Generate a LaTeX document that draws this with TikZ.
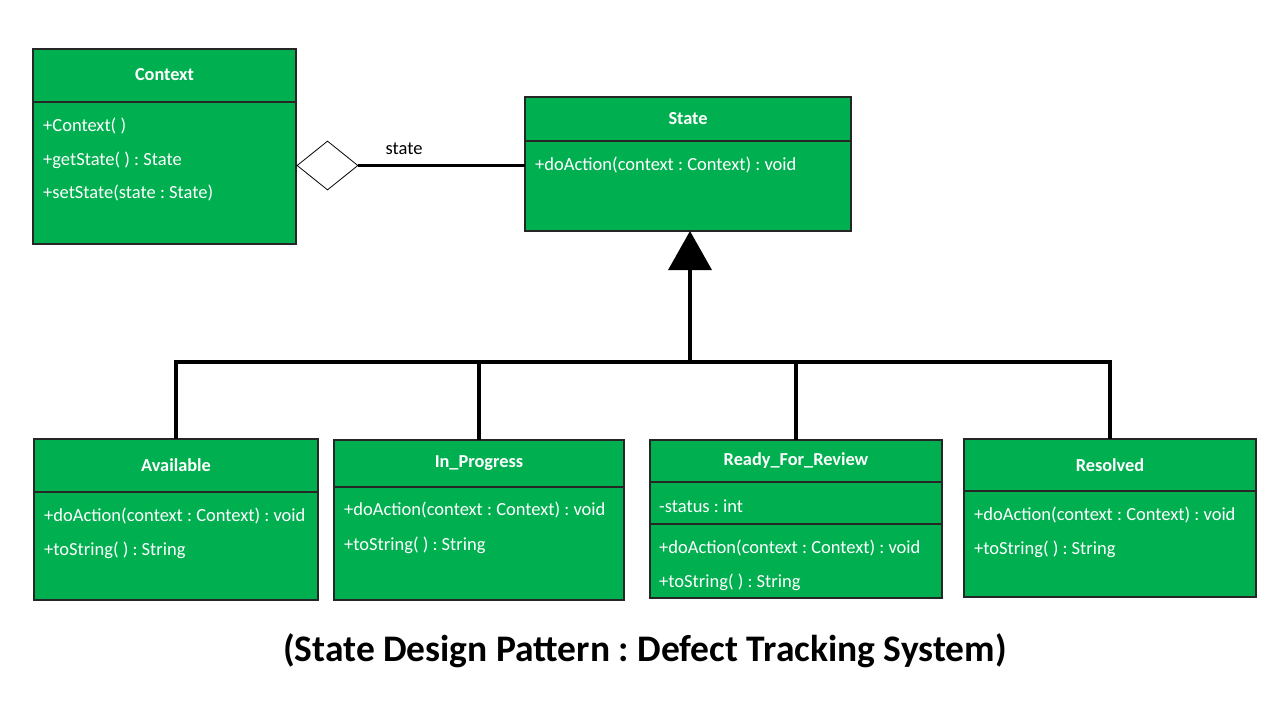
\documentclass[tikz,border=0pt]{standalone}
\usepackage{fontspec}
\setmainfont{Carlito}
\usetikzlibrary{arrows.meta,shapes.geometric}
\definecolor{umlgreen}{RGB}{0,176,80}
\begin{document}
\frenchspacing
\begin{tikzpicture}[x=1pt,y=-1pt,
  cls/.style={draw=black!85,fill=umlgreen,line width=1.3pt,anchor=north west,inner sep=0pt,outer sep=0pt},
  divl/.style={draw=black!85,line width=1.3pt},
  ttl/.style={text=white,font=\fontsize{18.3}{22}\selectfont\bfseries,inner sep=0pt},
  mem/.style={text=white,font=\fontsize{18.5}{22}\selectfont,anchor=west,inner sep=0pt},
  link/.style={line width=3.5pt,black}]
\useasboundingbox (0,0) rectangle (1280,720);

% Context
\node[cls,minimum width=263pt,minimum height=195pt] (ctx) at (33,49) {};
\draw[divl] (33,102) -- (296,102);
\node[ttl] (ctxT) at (164.5,75) {Context};
\node[mem] (ctx1) at (43,126) {+Context( )};
\node[mem] (ctx2) at (43,160) {+getState( ) : State};
\node[mem] (ctx3) at (43,193) {+setState(state : State)};

% State
\node[cls,minimum width=326pt,minimum height=134pt] (st) at (525,97) {};
\draw[divl] (525,141) -- (851,141);
\node[ttl] (stT) at (688,119) {State};
\node[mem] (st1) at (535,165) {+doAction(context : Context) : void};

% Available
\node[cls,minimum width=284pt,minimum height=161pt] (av) at (34,439) {};
\draw[divl] (34,492) -- (318,492);
\node[ttl] (avT) at (176,465) {Available};
\node[mem] (av1) at (44,516) {+doAction(context : Context) : void};
\node[mem] (av2) at (44,550) {+toString( ) : String};

% In_Progress
\node[cls,minimum width=290pt,minimum height=160pt] (ip) at (334,440) {};
\draw[divl] (334,487) -- (624,487);
\node[ttl] (ipT) at (479,463) {In\_Progress};
\node[mem] (ip1) at (344,510) {+doAction(context : Context) : void};
\node[mem] (ip2) at (344,545) {+toString( ) : String};

% Ready_For_Review
\node[cls,minimum width=292pt,minimum height=158pt] (rfr) at (650,440) {};
\draw[divl] (650,482) -- (942,482);
\draw[divl] (650,524) -- (942,524);
\node[ttl] (rfrT) at (796,461) {Ready\_For\_Review};
\node[mem] (rfr0) at (659,506) {-status : int};
\node[mem] (rfr1) at (659,548) {+doAction(context : Context) : void};
\node[mem] (rfr2) at (659,582) {+toString( ) : String};

% Resolved
\node[cls,minimum width=292pt,minimum height=158pt] (res) at (964,439) {};
\draw[divl] (964,491) -- (1256,491);
\node[ttl] (resT) at (1110,465) {Resolved};
\node[mem] (res1) at (974,515) {+doAction(context : Context) : void};
\node[mem] (res2) at (974,549) {+toString( ) : String};

% Aggregation
\node[diamond,draw,fill=white,line width=0.8pt,minimum width=61pt,minimum height=49pt,inner sep=0pt] (agg) at (327.5,165.5) {};
\draw[link] (agg.east) -- (agg.east -| st.west);
\node[font=\fontsize{18.5}{22}\selectfont,inner sep=0pt] (aggL) at (404,149) {state};

% Inheritance
\coordinate (hub) at (690,362);
\draw[link,-{Triangle[width=43pt,length=39pt]}] (hub) -- (hub |- st.south);
\draw[link] (av.north) |- (res.north |- hub) -- (res.north);
\draw[link] (ip.north) -- (ip.north |- hub);
\draw[link] (rfr.north) -- (rfr.north |- hub);

% Caption
\node[font=\fontsize{37.5}{44}\selectfont\bfseries] (cap) at (645,651) {(State Design Pattern : Defect Tracking System)};
\end{tikzpicture}
\end{document}
